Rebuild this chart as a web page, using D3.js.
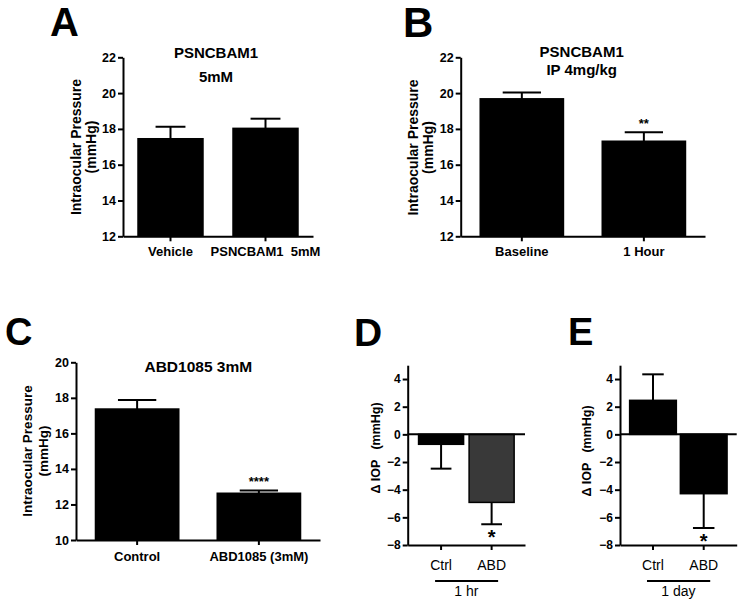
<!DOCTYPE html>
<html>
<head>
<meta charset="utf-8">
<script src="https://cdn.jsdelivr.net/npm/d3@7"></script>
<style>
  html, body { margin: 0; padding: 0; background: #fff; }
  svg { display: block; font-family: Arial, "Liberation Sans", sans-serif; }
</style>
</head>
<body>
<svg id="chart" width="750" height="603"></svg>
<script>
// ---------------- DATA ----------------
const aCategories = ["Vehicle", "PSNCBAM1  5mM"];
const aMeans = [17.45, 18.03];
const aSem = [0.67, 0.54];
const aTicks = [12, 14, 16, 18, 20, 22];

const bCategories = ["Baseline", "1 Hour"];
const bMeans = [19.68, 17.31];
const bSem = [0.36, 0.50];
const bTicks = [12, 14, 16, 18, 20, 22];
const bSignif = ["", "**"];

const cCategories = ["Control", "ABD1085 (3mM)"];
const cMeans = [17.37, 12.63];
const cSem = [0.51, 0.16];
const cTicks = [10, 12, 14, 16, 18, 20];
const cSignif = ["", "****"];

const dCategories = ["Ctrl", "ABD"];
const dMeans = [-0.72, -4.92];
const dSem = [1.76, 1.58];
const dSignif = ["", "*"];
const dGroup = "1 hr";

const eCategories = ["Ctrl", "ABD"];
const eMeans = [2.46, -4.29];
const eSem = [1.88, 2.48];
const eSignif = ["", "*"];
const eGroup = "1 day";

const deltaTicks = [-8, -6, -4, -2, 0, 2, 4];

// ---------------- DRAWING ----------------
const svg = d3.select("#chart");
const FONT = 'Arial, "Liberation Sans", sans-serif';

function panel(cfg) {
  const g = svg.append("g");
  const x = d3.scaleBand().domain(cfg.cats).range(cfg.xRange)
    .paddingInner(cfg.pIn).paddingOuter(cfg.pOut);
  const y = d3.scaleLinear().domain(cfg.yDomain).range(cfg.yRange);
  const base = cfg.yDomain[0];
  const zero = cfg.zeroBase ? 0 : base;

  // bars
  g.selectAll("rect.bar").data(cfg.means).join("rect")
    .attr("x", (d, i) => x(cfg.cats[i]))
    .attr("width", x.bandwidth())
    .attr("y", d => Math.min(y(d), y(zero)))
    .attr("height", d => Math.abs(y(d) - y(zero)))
    .attr("fill", (d, i) => cfg.fills ? cfg.fills[i] : "#000")
    .attr("stroke", "#000").attr("stroke-width", 1.5);

  // error bars (one-sided, away from zero)
  const capW = x.bandwidth() * 0.46;
  cfg.means.forEach((m, i) => {
    const cx = x(cfg.cats[i]) + x.bandwidth() / 2;
    const end = m >= zero ? m + cfg.sem[i] : m - cfg.sem[i];
    g.append("line").attr("x1", cx).attr("x2", cx)
      .attr("y1", y(m)).attr("y2", y(end))
      .attr("stroke", "#000").attr("stroke-width", 2);
    g.append("line").attr("x1", cx - capW / 2).attr("x2", cx + capW / 2)
      .attr("y1", y(end)).attr("y2", y(end))
      .attr("stroke", "#000").attr("stroke-width", 2);
    if (cfg.signif && cfg.signif[i]) {
      const big = cfg.signif[i] === "*";
      g.append("text")
        .attr("x", cx)
        .attr("y", big ? y(end) + cfg.starOffset : y(end) - 4)
        .attr("text-anchor", "middle")
        .attr("font-family", FONT).attr("font-weight", "bold")
        .attr("font-size", big ? 20 : 13)
        .text(cfg.signif[i]);
    }
  });

  // y axis
  const yAxis = d3.axisLeft(y).tickValues(cfg.ticks).tickSize(5).tickSizeOuter(0).tickPadding(2)
    .tickFormat(d3.format("d"));
  const ya = g.append("g").attr("transform", `translate(${cfg.xRange[0]},0)`).call(yAxis);
  ya.select(".domain").attr("stroke-width", 2);
  ya.selectAll(".tick line").attr("stroke-width", 2);
  ya.selectAll(".tick text").attr("font-family", FONT).attr("font-weight", "bold")
    .attr("font-size", cfg.tickFont).attr("fill", "#000");

  // x axis at the bottom
  const xAxis = d3.axisBottom(x).tickSize(5).tickSizeOuter(0).tickPadding(cfg.xPad);
  const xa = g.append("g").attr("transform", `translate(0,${y(base)})`).call(xAxis);
  xa.select(".domain").attr("stroke-width", 2);
  xa.selectAll(".tick line").attr("stroke-width", 2);
  xa.selectAll(".tick text").attr("font-family", FONT)
    .attr("font-weight", cfg.xBold ? "bold" : "normal")
    .attr("font-size", cfg.xFont).attr("fill", "#000")
    .style("white-space", "pre");

  // zero line
  if (cfg.zeroBase) {
    g.append("line").attr("x1", cfg.xRange[0]).attr("x2", cfg.xRange[1])
      .attr("y1", y(0)).attr("y2", y(0)).attr("stroke", "#000").attr("stroke-width", 2);
  }

  // group label
  if (cfg.group) {
    const c0 = x(cfg.cats[0]) + x.bandwidth() / 2;
    const c1 = x(cfg.cats[1]) + x.bandwidth() / 2;
    g.append("line").attr("x1", c0 - 6).attr("x2", c1 + 6.5)
      .attr("y1", y(base) + 36).attr("y2", y(base) + 36)
      .attr("stroke", "#000").attr("stroke-width", 2);
    g.append("text").attr("x", (c0 + c1) / 2).attr("y", y(base) + 51)
      .attr("text-anchor", "middle").attr("font-family", FONT)
      .attr("font-size", 14).text(cfg.group);
  }

  // title
  (cfg.title || []).forEach((t, k) => {
    g.append("text").attr("x", cfg.titleX).attr("y", cfg.titleY[k])
      .attr("text-anchor", "middle").attr("font-family", FONT).attr("font-weight", "bold")
      .attr("font-size", cfg.titleFont).text(t);
  });

  // y label
  cfg.yLabel.forEach((t, k) => {
    const tx = g.append("text")
      .attr("transform", `translate(${cfg.yLabelX[k]},${cfg.yLabelY}) rotate(-90)`)
      .attr("text-anchor", "middle").attr("dy", "0.35em")
      .attr("font-family", FONT).attr("font-weight", "bold")
      .attr("font-size", cfg.yLabelFont);
    if (Array.isArray(t)) {
      tx.append("tspan").text(t[0]);
      tx.append("tspan").attr("dx", cfg.yLabelGap).text(t[1]);
    } else tx.text(t);
  });

  // panel letter
  svg.append("text").attr("x", cfg.letterX).attr("y", cfg.letterY)
    .attr("font-family", FONT).attr("font-weight", "bold")
    .attr("font-size", cfg.letterFont).text(cfg.letter);
}

panel({
  letter: "A", letterX: 50, letterY: 36, letterFont: 40,
  cats: aCategories, means: aMeans, sem: aSem, ticks: aTicks,
  xRange: [123, 313], pIn: 0.316, pOut: 0.158,
  yDomain: [12, 22], yRange: [236.3, 57.3],
  tickFont: 12.5, xFont: 13, xBold: true, xPad: 5,
  title: ["PSNCBAM1", "5mM"], titleX: 216, titleY: [58, 82], titleFont: 15,
  yLabel: ["Intraocular Pressure", "(mmHg)"], yLabelX: [76, 91.5], yLabelY: 147, yLabelFont: 14
});

panel({
  letter: "B", letterX: 403, letterY: 37, letterFont: 42,
  cats: bCategories, means: bMeans, sem: bSem, ticks: bTicks, signif: bSignif,
  xRange: [460.7, 705], pIn: 0.318, pOut: 0.16,
  yDomain: [12, 22], yRange: [236.3, 57.3],
  tickFont: 12.5, xFont: 13, xBold: true, xPad: 5,
  title: ["PSNCBAM1", "IP 4mg/kg"], titleX: 581.7, titleY: [57, 75], titleFont: 15,
  yLabel: ["Intraocular Pressure", "(mmHg)"], yLabelX: [413, 428.5], yLabelY: 147.5, yLabelFont: 14
});

panel({
  letter: "C", letterX: 5, letterY: 345, letterFont: 38,
  cats: cCategories, means: cMeans, sem: cSem, ticks: cTicks, signif: cSignif,
  xRange: [76, 320], pIn: 0.316, pOut: 0.16,
  yDomain: [10, 20], yRange: [540, 362.3],
  tickFont: 12.5, xFont: 13, xBold: true, xPad: 6.5,
  title: ["ABD1085 3mM"], titleX: 198.3, titleY: [371.7], titleFont: 15.5,
  yLabel: ["Intraocular Pressure", "(mmHg)"], yLabelX: [27.5, 43], yLabelY: 451, yLabelFont: 13.5
});

panel({
  letter: "D", letterX: 354, letterY: 346, letterFont: 39,
  cats: dCategories, means: dMeans, sem: dSem, ticks: deltaTicks, signif: dSignif,
  fills: ["#000", "#393939"], zeroBase: true, starOffset: 20,
  xRange: [407.7, 525], pIn: 0.109, pOut: 0.215,
  yDomain: [-8, 5], yRange: [545, 365.2],
  tickFont: 12, xFont: 14, xBold: false, xPad: 10,
  group: dGroup,
  yLabel: [["\u0394 IOP", "(mmHg)"]], yLabelX: [376], yLabelY: 448, yLabelFont: 12.5, yLabelGap: 10
});

panel({
  letter: "E", letterX: 568, letterY: 345, letterFont: 38,
  cats: eCategories, means: eMeans, sem: eSem, ticks: deltaTicks, signif: eSignif,
  zeroBase: true, starOffset: 20,
  xRange: [620, 736.7], pIn: 0.079, pOut: 0.19,
  yDomain: [-8, 5], yRange: [545, 365.2],
  tickFont: 12, xFont: 14, xBold: false, xPad: 10,
  group: eGroup,
  yLabel: [["\u0394 IOP", "(mmHg)"]], yLabelX: [587], yLabelY: 451, yLabelFont: 12.5, yLabelGap: 10
});
</script>
</body>
</html>
